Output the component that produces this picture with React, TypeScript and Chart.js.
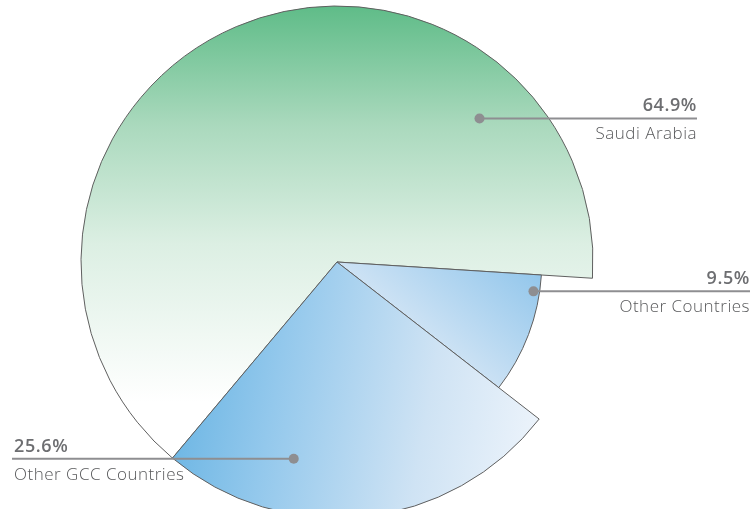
import React, { useEffect, useRef } from "react";
import { Chart, registerables } from "chart.js";

Chart.register(...registerables);

// ---- data ----
const categories = ["Saudi Arabia", "Other Countries", "Other GCC Countries"];
const shares = [64.9, 9.5, 25.6];
const percentLabels = ["64.9%", "9.5%", "25.6%"];

// ---- style / layout ----
const pieRadius = 256;
const pieRotation = 220;
const sliceRadiusScale = [1, 0.8, 1];
const labelAngles = [-45.2, 8.5, 102.4];
const labelRadiusFrac = [0.79, 0.776, 0.787];
const labelLineEnds = [697, 750, 12];
const labelSides = ["right", "right", "left"];

function centerOf(chart: any) {
  const a = chart.chartArea;
  return { cx: (a.left + a.right) / 2, cy: (a.top + a.bottom) / 2 };
}

function sliceFill(c: any) {
  const chart = c.chart;
  if (!chart.chartArea) return "#9cc";
  const { ctx } = chart;
  const { cx, cy } = centerOf(chart);
  const R = pieRadius;
  const i = c.dataIndex;
  if (i === 0) {
    const g = ctx.createLinearGradient(0, cy - R, 0, cy + R * 0.55);
    g.addColorStop(0, "#5fbc88");
    g.addColorStop(0.3, "#aad9bd");
    g.addColorStop(0.6, "#dcefe3");
    g.addColorStop(1, "#ffffff");
    return g;
  }
  if (i === 1) {
    const g = ctx.createLinearGradient(cx + R * 0.8, cy - R * 0.2, cx + R * 0.35, cy + R * 0.35);
    g.addColorStop(0, "#7abbe8");
    g.addColorStop(1, "#d3e5f5");
    return g;
  }
  const g = ctx.createLinearGradient(cx - R * 0.85, cy + R * 0.45, cx + R * 0.85, cy + R * 0.75);
  g.addColorStop(0, "#55abdf");
  g.addColorStop(0.35, "#93c8ec");
  g.addColorStop(0.7, "#cfe3f4");
  g.addColorStop(1, "#f1f6fc");
  return g;
}

const sliceRadiusPlugin = {
  id: "sliceRadius",
  afterDatasetsUpdate(chart: any) {
    const meta = chart.getDatasetMeta(0);
    const base = meta.controller.outerRadius;
    meta.data.forEach((el: any, i: number) => {
      el.outerRadius = base * sliceRadiusScale[i];
    });
  },
};

const labelPlugin = {
  id: "leaderLabels",
  afterDraw(chart: any) {
    const { ctx } = chart;
    const meta = chart.getDatasetMeta(0);
    const el0 = meta.data[0];
    const cx = el0.x;
    const cy = el0.y;
    const R = meta.controller.outerRadius;
    categories.forEach((name, i) => {
      const a = (labelAngles[i] * Math.PI) / 180;
      const px = cx + Math.cos(a) * R * labelRadiusFrac[i];
      const py = cy + Math.sin(a) * R * labelRadiusFrac[i];
      const end = labelLineEnds[i];
      ctx.save();
      ctx.strokeStyle = "#8e8e91";
      ctx.lineWidth = 2;
      ctx.beginPath();
      ctx.moveTo(px, py);
      ctx.lineTo(end, py);
      ctx.stroke();
      ctx.fillStyle = "#8e8e91";
      ctx.beginPath();
      ctx.arc(px, py, 5, 0, Math.PI * 2);
      ctx.fill();
      const right = labelSides[i] === "right";
      ctx.textAlign = right ? "right" : "left";
      ctx.textBaseline = "alphabetic";
      const tx = right ? end : end + 2;
      ctx.fillStyle = "#6d6e71";
      ctx.font = '600 18px "Open Sans"';
      (ctx as any).letterSpacing = "0.6px";
      ctx.fillText(percentLabels[i], tx, py - 7);
      ctx.fillStyle = "#58595b";
      ctx.font = '300 17px "Open Sans"';
      (ctx as any).letterSpacing = "0.5px";
      ctx.fillText(name, tx, py + 21);
      ctx.restore();
    });
  },
};

export default function App() {
  const ref = useRef<HTMLCanvasElement>(null);
  useEffect(() => {
    if (!ref.current) return;
    const chart = new Chart(ref.current, {
      type: "pie",
      data: {
        labels: categories,
        datasets: [
          {
            data: shares,
            backgroundColor: sliceFill as any,
            borderColor: "#5f5f5f",
            borderWidth: 1,
            clip: false as any,
          },
        ],
      },
      options: {
        animation: false,
        responsive: false,
        events: [],
        radius: pieRadius,
        rotation: pieRotation,
        layout: { padding: { left: 0, right: 80, top: 15, bottom: 0 } },
        plugins: {
          legend: { display: false },
          tooltip: { enabled: false },
        },
      } as any,
      plugins: [sliceRadiusPlugin, labelPlugin],
    });
    return () => chart.destroy();
  }, []);
  return (
    <div style={{ position: "fixed", left: 0, top: 0, width: 754, height: 509, overflow: "hidden", background: "#fff" }}>
      <canvas ref={ref} width={754} height={509} style={{ width: 754, height: 509, display: "block" }} />
    </div>
  );
}
